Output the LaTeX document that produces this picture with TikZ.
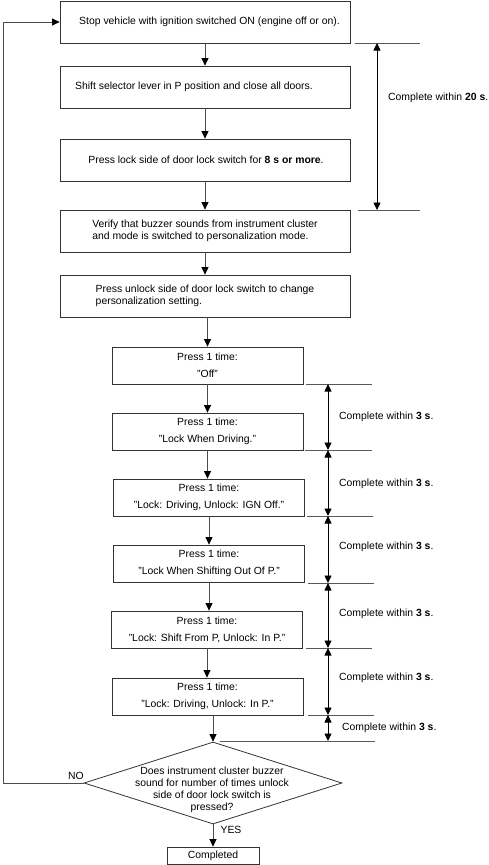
\documentclass[tikz,border=0pt]{standalone}
\usepackage{fontspec}
\setmainfont{Liberation Sans}
\usetikzlibrary{arrows.meta,shapes.geometric}
\begin{document}
\begin{tikzpicture}[x=1pt,y=-1pt,
  every node/.style={font=\fontsize{10.4}{12}\selectfont},
  bigbox/.style={draw=black!80,line width=0.8pt,minimum width=290pt,minimum height=42pt,inner sep=0pt,align=left},
  smallbox/.style={draw=black!80,line width=0.8pt,minimum width=191pt,minimum height=37pt,inner sep=0pt,align=center,font=\fontsize{10.4}{17}\selectfont},
  flow/.style={draw=black!70,line width=0.8pt,-{Triangle[length=7.5pt,width=7pt,color=black]}},
  dimline/.style={draw=black!65,line width=0.8pt},
  dimarrow/.style={draw=black,line width=0.8pt,{Triangle[length=7.5pt,width=7pt]}-{Triangle[length=7.5pt,width=7pt]}},
  dimtext/.style={anchor=west,inner sep=0pt}
]
\useasboundingbox (0,0) rectangle (489,865);

% large boxes
\node[bigbox] (b1) at (205,22) {\hspace*{9pt}Stop vehicle with ignition switched ON (engine off or on).};
\node[bigbox] (b2) at (205,87) {Shift selector lever in P position and close all doors.\hspace*{22pt}};
\node[bigbox] (b3) at (205,160) {\hspace*{2pt}Press lock side of door lock switch for \textbf{8 s or more}.};
\node[bigbox] (b4) at (205,231) {Verify that buzzer sounds from instrument cluster\\and mode is switched to personalization mode.};
\node[bigbox] (b5) at (205,296) {Press unlock side of door lock switch to change\\personalization setting.};

% small boxes
\node[smallbox] (s1) at (207.5,365.5) {Press 1 time:\\"Off"};
\node[smallbox] (s2) at (207.5,431.5) {Press 1 time:\\"Lock When Driving."};
\node[smallbox] (s3) at (209,497.5) {Press 1 time:\\"Lock: Driving, Unlock: IGN Off."};
\node[smallbox] (s4) at (209,563.5) {Press 1 time:\\"Lock When Shifting Out Of P."};
\node[smallbox] (s5) at (207,629.5) {Press 1 time:\\"Lock: Shift From P, Unlock: In P."};
\node[smallbox] (s6) at (207.5,696.5) {Press 1 time:\\"Lock: Driving, Unlock: In P."};

% decision
\node[draw=black!80,line width=0.8pt,diamond,minimum width=258pt,minimum height=82pt,inner sep=0pt] (dia) at (213,783) {};
\node[align=center,inner sep=0pt] (diatext) at (212,790) {Does instrument cluster buzzer\\sound for number of times unlock\\side of door lock switch is\\pressed?};
\node[draw=black!80,line width=0.8pt,minimum width=92pt,minimum height=17pt,inner sep=0pt] (done) at (213,855.5) {Completed};
\node[inner sep=0pt] (yes) at (231,830) {YES};
\node[inner sep=0pt] (no) at (76,776) {NO};

% flow arrows
\draw[flow] (b1.south) -- (b2.north);
\draw[flow] (b2.south) -- (b3.north);
\draw[flow] (b3.south) -- (b4.north);
\draw[flow] (b4.south) -- (b5.north);
\draw[flow] (b5.south -| s1.south) -- (s1.north);
\draw[flow] (s1.south) -- (s1.south |- s2.north);
\draw[flow] (s2.south) -- (s2.south |- s3.north);
\draw[flow] (s3.south) -- (s3.south |- s4.north);
\draw[flow] (s4.south) -- (s4.south |- s5.north);
\draw[flow] (s5.south) -- (s5.south |- s6.north);
\draw[flow] (s6.south -| dia.north) -- (dia.north);
\draw[flow] (dia.south) -- (done.north);
\draw[flow] (dia.west) -- (3,783) -- (3,22) -- (b1.west);

% 20 s dimension
\coordinate (t1a) at (355,43);  \coordinate (t1b) at (420,43);
\coordinate (t2a) at (358,210); \coordinate (t2b) at (420,210);
\draw[dimline] (t1a) -- (t1b);
\draw[dimline] (t2a) -- (t2b);
\draw[dimarrow] (377,43) -- (377,210);
\node[dimtext] (c20) at (388,98) {Complete within \textbf{20 s}.};

% 3 s dimensions
\coordinate (l1) at (306,384);
\coordinate (l2) at (305,450);
\coordinate (l3) at (307,516);
\coordinate (l4) at (308,583);
\coordinate (l5) at (306,648);
\coordinate (l6) at (308,715);
\coordinate (l7) at (220,741);
\draw[dimline] (l1) -- (372,384);
\draw[dimline] (l2) -- (372,450);
\draw[dimline] (l3) -- (373,516);
\draw[dimline] (l4) -- (374,583);
\draw[dimline] (l5) -- (372,648);
\draw[dimline] (l6) -- (374,715);
\draw[dimline] (l7) -- (375,741);
\draw[dimarrow] (328,384) -- (328,450);
\draw[dimarrow] (328,450) -- (328,516);
\draw[dimarrow] (328,516) -- (328,583);
\draw[dimarrow] (328,583) -- (328,648);
\draw[dimarrow] (328,648) -- (328,715);
\draw[dimarrow] (328,715) -- (328,741);
\node[dimtext] (c1) at (339,417) {Complete within \textbf{3 s}.};
\node[dimtext] (c2) at (339,484) {Complete within \textbf{3 s}.};
\node[dimtext] (c3) at (339,547) {Complete within \textbf{3 s}.};
\node[dimtext] (c4) at (339,614) {Complete within \textbf{3 s}.};
\node[dimtext] (c5) at (339,678) {Complete within \textbf{3 s}.};
\node[dimtext] (c6) at (342,728) {Complete within \textbf{3 s}.};
\end{tikzpicture}
\end{document}
